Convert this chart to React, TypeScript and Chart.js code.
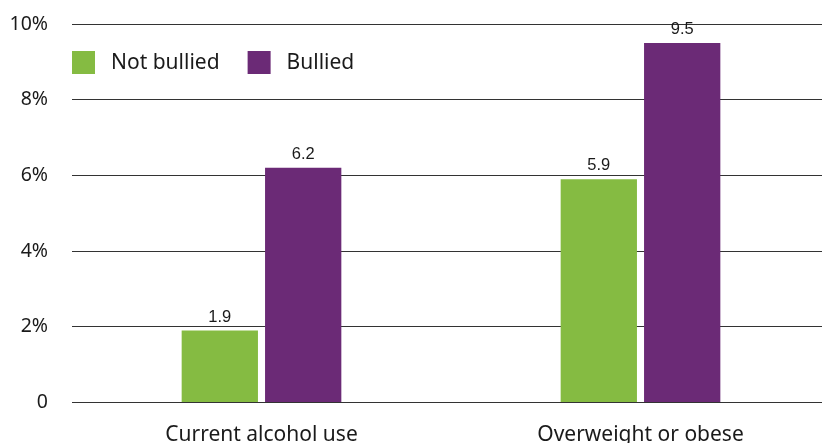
import React, { useEffect, useRef } from "react";
import { Chart, registerables } from "chart.js";

Chart.register(...registerables);

const categories = ["Current alcohol use", "Overweight or obese"];
const notBullied = [1.9, 5.9];
const bullied = [6.2, 9.5];
const seriesNames = ["Not bullied", "Bullied"];
const yTicks = [0, 2, 4, 6, 8, 10];

const GREEN = "#85bb42";
const PURPLE = "#6b2a76";
const LABEL_FONT = "'Noto Sans', sans-serif";

const valueLabels = {
  id: "valueLabels",
  afterDatasetsDraw(chart: any) {
    const ctx = chart.ctx;
    ctx.save();
    ctx.font = "16.5px 'Liberation Sans', Arial, sans-serif";
    ctx.fillStyle = "#1a1a1a";
    ctx.textAlign = "center";
    ctx.textBaseline = "alphabetic";
    chart.data.datasets.forEach((ds: any, i: number) => {
      const meta = chart.getDatasetMeta(i);
      meta.data.forEach((el: any, j: number) => {
        ctx.fillText(String(ds.data[j].toFixed(1)), el.x, el.y - 9);
      });
    });
    ctx.restore();
  },
};

const insideLegend = {
  id: "insideLegend",
  afterDraw(chart: any) {
    const ctx = chart.ctx;
    const left = chart.chartArea.left;
    const top = 51;
    const size = 23;
    ctx.save();
    ctx.font = `21px ${LABEL_FONT}`;
    ctx.textBaseline = "middle";
    ctx.textAlign = "left";
    let x = left;
    chart.data.datasets.forEach((ds: any) => {
      ctx.fillStyle = ds.backgroundColor;
      ctx.fillRect(x, top, size, size);
      ctx.fillStyle = "#1a1a1a";
      const tx = x + size + 16;
      ctx.fillText(ds.label, tx, top + size / 2 + 1);
      x = tx + ctx.measureText(ds.label).width + 28;
    });
    ctx.restore();
  },
};

export default function App() {
  const ref = useRef<HTMLCanvasElement>(null);
  useEffect(() => {
    if (!ref.current) return;
    const chart = new Chart(ref.current, {
      type: "bar",
      data: {
        labels: categories,
        datasets: [
          { label: seriesNames[0], data: notBullied, backgroundColor: GREEN },
          { label: seriesNames[1], data: bullied, backgroundColor: PURPLE },
        ],
      },
      options: {
        animation: false,
        responsive: false,
        maintainAspectRatio: false,
        layout: { padding: { top: 24, right: 0, left: 0, bottom: 0 } },
        plugins: { legend: { display: false }, tooltip: { enabled: false } },
        datasets: { bar: { categoryPercentage: 0.44, barPercentage: 0.915 } },
        scales: {
          x: {
            grid: { display: false },
            border: { display: false },
            ticks: {
              padding: 12,
              color: "#1a1a1a",
              font: { family: LABEL_FONT, size: 21 },
            },
            afterFit: (s: any) => {
              s.height = 40.5;
            },
          },
          y: {
            min: 0,
            max: 10,
            afterBuildTicks: (s: any) => {
              s.ticks = yTicks.map((v) => ({ value: v }));
            },
            grid: { color: "#333", lineWidth: 1, drawTicks: false },
            border: { display: false },
            ticks: {
              padding: 24,
              color: "#1a1a1a",
              font: { family: LABEL_FONT, size: 19.5 },
              callback: (v: any) => (v === 0 ? "0" : `${v}%`),
            },
            afterFit: (s: any) => {
              s.width = 72;
              s.paddingTop = 0;
              s.paddingBottom = 0;
            },
          },
        },
      },
      plugins: [valueLabels, insideLegend],
    });
    return () => chart.destroy();
  }, []);
  return (
    <div
      style={{
        position: "fixed",
        left: 0,
        top: 0,
        width: 822,
        height: 443,
        overflow: "hidden",
        background: "#fff",
      }}
    >
      <canvas ref={ref} width={830} height={443} style={{ display: "block" }} />
    </div>
  );
}
